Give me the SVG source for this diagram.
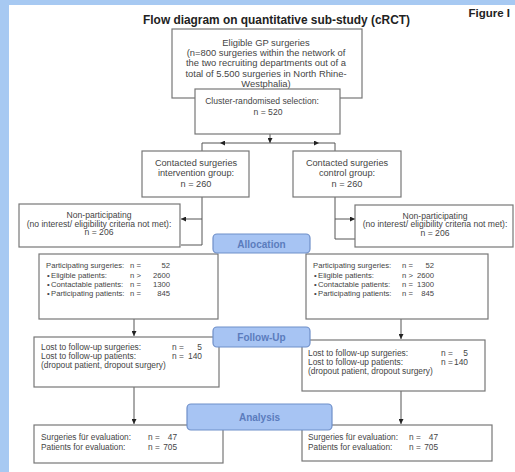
<svg xmlns="http://www.w3.org/2000/svg" width="515" height="472" viewBox="0 0 515 472">
<defs>
<style>
.box{fill:#fff;stroke:#777;stroke-width:1.2}
.t{font-family:"Liberation Sans",Arial,sans-serif;fill:#454545}
.c{text-anchor:middle}
.e{text-anchor:end}
.lbl rect{fill:#a7c4f3;stroke:#6f8fc9;stroke-width:1.2}
.lbl text{font-family:"Liberation Sans",Arial,sans-serif;font-weight:bold;font-size:10px;fill:#5b7cbd;text-anchor:middle}
.ln{fill:none;stroke:#555;stroke-width:1}
</style>
<marker id="ah" viewBox="0 0 6 6" refX="6" refY="3" markerWidth="5" markerHeight="5" orient="auto" markerUnits="userSpaceOnUse">
<path d="M0,0 L6,3 L0,6 z" fill="#222"/>
</marker>
</defs>
<rect x="0" y="0" width="515" height="472" fill="#fff"/>
<rect x="0" y="0" width="515" height="5" fill="#a7c9f2"/>
<rect x="0" y="0" width="9" height="472" fill="#a7c9f2"/>

<text x="276.5" y="24.3" font-family="Liberation Sans,Arial,sans-serif" font-weight="bold" font-size="11.9" fill="#222" text-anchor="middle">Flow diagram on quantitative sub-study (cRCT)</text>
<text x="510" y="17" font-family="Liberation Sans,Arial,sans-serif" font-weight="bold" font-size="11.5" fill="#222" text-anchor="end">Figure I</text>

<g id="connectors">
<path class="ln" d="M270,134 V143" marker-end="url(#ah)"/>
<path class="ln" d="M270,143 H220" marker-end="url(#ah)"/>
<path class="ln" d="M220,143 H202 V151"/>
<path class="ln" d="M270,143 H319" marker-end="url(#ah)"/>
<path class="ln" d="M319,143 H335 V151"/>
<path class="ln" d="M202,197 V245 H181"/>
<path class="ln" d="M202,219 H181" marker-end="url(#ah)"/>
<path class="ln" d="M335,197 V239 H355"/>
<path class="ln" d="M335,219 H355" marker-end="url(#ah)"/>
<path class="ln" d="M134,319 V336" marker-end="url(#ah)"/>
<path class="ln" d="M401,319 V339" marker-end="url(#ah)"/>
<path class="ln" d="M134,387 V424" marker-end="url(#ah)"/>
<path class="ln" d="M401,391 V424" marker-end="url(#ah)"/>
</g>

<g id="eligible">
<rect class="box" x="172" y="29" width="190" height="69"/>
<g class="t c" font-size="9.4">
<text x="266" y="46">Eligible GP surgeries</text>
<text x="266" y="56.2">(n=800 surgeries within the network of</text>
<text x="266" y="66.4">the two recruiting departments out of a</text>
<text x="266" y="76.6">total of 5.500 surgeries in North Rhine-</text>
<text x="266" y="86.8">Westphalia)</text>
</g>
</g>

<g id="cluster">
<rect class="box" x="195" y="89" width="145" height="45"/>
<g class="t c" font-size="8.6">
<text x="262" y="103.5">Cluster-randomised selection:</text>
<text x="268" y="114.5">n = 520</text>
</g>
</g>

<g id="intervention">
<rect class="box" x="142" y="151" width="107" height="46"/>
<g class="t c" font-size="9.2">
<text x="196" y="166.3">Contacted surgeries</text>
<text x="196" y="176.3">intervention group:</text>
<text x="196" y="186.8">n = 260</text>
</g>
</g>

<g id="control">
<rect class="box" x="293" y="151" width="108" height="46"/>
<g class="t c" font-size="9.2">
<text x="347" y="166.3">Contacted surgeries</text>
<text x="347" y="176.3">control group:</text>
<text x="347" y="186.8">n = 260</text>
</g>
</g>

<g id="nonpart-left">
<rect class="box" x="19" y="204" width="161" height="43"/>
<g class="t c" font-size="8.6">
<text x="99" y="218">Non-participating</text>
<text x="99" y="226.5">(no interest/ eligibility criteria not met):</text>
<text x="99" y="235">n = 206</text>
</g>
</g>

<g id="nonpart-right">
<rect class="box" x="355" y="205" width="158" height="42"/>
<g class="t c" font-size="8.6">
<text x="435" y="218.5">Non-participating</text>
<text x="435" y="227">(no interest/ eligibility criteria not met):</text>
<text x="435" y="235.5">n = 206</text>
</g>
</g>

<g id="participating-left">
<rect class="box" x="39" y="254" width="179" height="65"/>
<g class="t" font-size="7.7">
<text x="46" y="268.3">Participating surgeries:</text>
<text x="47" y="277.8">•</text><text x="51" y="277.8">Eligible patients:</text>
<text x="47" y="287.3">•</text><text x="51" y="287.3">Contactable patients:</text>
<text x="47" y="296.3">•</text><text x="51" y="296.3">Participating patients:</text>
<text x="130" y="268.3">n =</text>
<text x="130" y="277.8">n &gt;</text>
<text x="130" y="287.3">n =</text>
<text x="130" y="296.3">n =</text>
<text class="e" x="170" y="268.3">52</text>
<text class="e" x="170" y="277.8">2600</text>
<text class="e" x="170" y="287.3">1300</text>
<text class="e" x="170" y="296.3">845</text>
</g>
</g>

<g id="participating-right">
<rect class="box" x="306" y="254" width="182" height="65"/>
<g class="t" font-size="7.7">
<text x="313" y="268">Participating surgeries:</text>
<text x="314" y="277.5">•</text><text x="318" y="277.5">Eligible patients:</text>
<text x="314" y="287">•</text><text x="318" y="287">Contactable patients:</text>
<text x="314" y="296">•</text><text x="318" y="296">Participating patients:</text>
<text x="402" y="268">n =</text>
<text x="402" y="277.5">n &gt;</text>
<text x="402" y="287">n =</text>
<text x="402" y="296">n =</text>
<text class="e" x="434" y="268">52</text>
<text class="e" x="434" y="277.5">2600</text>
<text class="e" x="434" y="287">1300</text>
<text class="e" x="434" y="296">845</text>
</g>
</g>

<g id="lost-left">
<rect class="box" x="34" y="337" width="185" height="50"/>
<g class="t" font-size="8.4">
<text x="41" y="350">Lost to follow-up surgeries:</text>
<text x="41" y="359">Lost to follow-up patients:</text>
<text x="41" y="367.5">(dropout patient, dropout surgery)</text>
<text x="172" y="350">n =</text>
<text x="172" y="359">n =</text>
<text class="e" x="202" y="350">5</text>
<text class="e" x="202" y="359">140</text>
</g>
</g>

<g id="lost-right">
<rect class="box" x="302" y="340" width="183" height="51"/>
<g class="t" font-size="8.4">
<text x="308" y="355.7">Lost to follow-up surgeries:</text>
<text x="308" y="365">Lost to follow-up patients:</text>
<text x="308" y="374.3">(dropout patient, dropout surgery)</text>
<text x="441" y="355.7">n =</text>
<text x="441" y="365">n =</text>
<text class="e" x="468" y="355.7">5</text>
<text class="e" x="468" y="365">140</text>
</g>
</g>

<g id="eval-left">
<rect class="box" x="34" y="425" width="189" height="38"/>
<g class="t" font-size="8.3">
<text x="41" y="440">Surgeries für evaluation:</text>
<text x="41" y="450">Patients for evaluation:</text>
<text x="148" y="440">n =</text>
<text x="148" y="450">n =</text>
<text class="e" x="177" y="440">47</text>
<text class="e" x="177" y="450">705</text>
</g>
</g>

<g id="eval-right">
<rect class="box" x="302" y="425" width="190" height="36"/>
<g class="t" font-size="8.3">
<text x="308" y="440">Surgeries für evaluation:</text>
<text x="308" y="450">Patients for evaluation:</text>
<text x="409" y="440">n =</text>
<text x="409" y="450">n =</text>
<text class="e" x="438" y="440">47</text>
<text class="e" x="438" y="450">705</text>
</g>
</g>

<g id="allocation" class="lbl">
<rect x="213" y="234" width="97" height="19" rx="4"/>
<text x="261.5" y="247.6">Allocation</text>
</g>
<g id="followup" class="lbl">
<rect x="213" y="327" width="97" height="20" rx="4"/>
<text x="261.5" y="340.6">Follow-Up</text>
</g>
<g id="analysis" class="lbl">
<rect x="187" y="404" width="145" height="26" rx="4"/>
<text x="259.5" y="420.6">Analysis</text>
</g>
</svg>
